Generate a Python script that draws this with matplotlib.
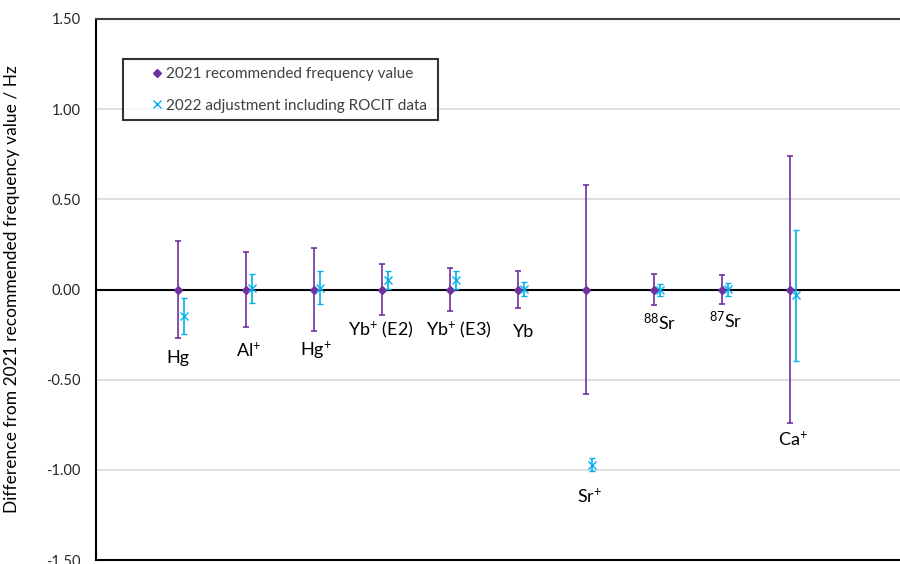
import numpy as np
import matplotlib
matplotlib.use('Agg')
import matplotlib.pyplot as plt

plt.rcParams['font.family'] = ['Lato', 'DejaVu Sans']
plt.rcParams['mathtext.fontset'] = 'custom'
plt.rcParams['mathtext.rm'] = 'Lato'
plt.rcParams['mathtext.it'] = 'Lato:italic'

# Species (order along the x axis)
species = ['Hg', 'Al$^{+}$', 'Hg$^{+}$', 'Yb$^{+}$ (E2)', 'Yb$^{+}$ (E3)', 'Yb',
           'Sr$^{+}$', '$^{88}$Sr', '$^{87}$Sr', 'Ca$^{+}$']

# 2021 recommended values (difference = 0) and their uncertainties / Hz
rec2021_val = [0, 0, 0, 0, 0, 0, 0, 0, 0, 0]
rec2021_unc = [0.27, 0.21, 0.23, 0.14, 0.12, 0.10, 0.58, 0.087, 0.08, 0.74]

# 2022 adjustment including ROCIT data / Hz
adj2022_val = [-0.147, 0.007, 0.011, 0.052, 0.051, 0.002, -0.972, -0.003, 0.002, -0.033]
adj2022_unc = [0.10, 0.08, 0.093, 0.05, 0.05, 0.038, 0.036, 0.032, 0.036, 0.361]

legend_labels = ['2021 recommended frequency value',
                 '2022 adjustment including ROCIT data']

# label anchor positions (data coords)
label_x = [1.21, 2.24, 3.24, 4.19, 5.34, 6.29, 7.26, 8.29, 9.26, 10.25]
label_y = [-0.38, -0.335, -0.335, -0.225, -0.225, -0.235, -1.147, -0.185, -0.17, -0.83]

purple = '#7030A0'
blue = '#00B0F0'

fig = plt.figure(figsize=(9, 5.64), dpi=100)
ax = fig.add_axes([96 / 900, 4 / 564, 816 / 900, 541 / 564])

x = np.arange(1, len(species) + 1)

eb1 = ax.errorbar(x + 0.2, rec2021_val, yerr=rec2021_unc, fmt='D', color=purple,
                  ms=4.5, elinewidth=1.2, capsize=2, capthick=1.2, zorder=4)
eb2 = ax.errorbar(x + 0.3, adj2022_val, yerr=adj2022_unc, fmt='x', color=blue,
                  ms=6, mew=1.0, elinewidth=1.2, capsize=2, capthick=1.2, zorder=5)

ax.axhline(0, color='black', lw=1.5, zorder=3)

for lx, ly, name in zip(label_x, label_y, species):
    ax.text(lx, ly, name, ha='center', va='center', fontsize=13, color='black')

ax.set_xlim(0, 12)
ax.set_ylim(-1.5, 1.5)
ax.set_yticks(np.arange(-1.5, 1.51, 0.5))
ax.set_yticklabels(['%.2f' % v for v in np.arange(-1.5, 1.51, 0.5)], fontsize=10.5)
ax.set_xticks([])
ax.tick_params(axis='y', length=0, pad=11, colors='#262626')
ax.yaxis.grid(True, color='#d9d9d9', lw=1.2)
ax.set_axisbelow(True)

for s in ['left', 'bottom']:
    ax.spines[s].set_color('black')
    ax.spines[s].set_linewidth(1.5)
ax.spines['top'].set_color('#404040')
ax.spines['top'].set_linewidth(1.5)
ax.spines['right'].set_visible(False)

ax.set_ylabel('Difference from 2021 recommended frequency value / Hz', fontsize=12.5)
ax.yaxis.set_label_coords(-0.093, 0.5)

leg = ax.legend([eb1[0], eb2[0]], legend_labels, loc='upper left',
                bbox_to_anchor=(0.0327, 0.9255, 0.387, 0.0), mode='expand',
                borderaxespad=0, fontsize=11, frameon=True, fancybox=False,
                handlelength=3.44, handletextpad=-1.13, labelspacing=1.15,
                borderpad=0.5, labelcolor='#404040')
leg.get_frame().set_edgecolor('black')
leg.get_frame().set_linewidth(1.5)

fig.savefig('out.png', dpi=100)
